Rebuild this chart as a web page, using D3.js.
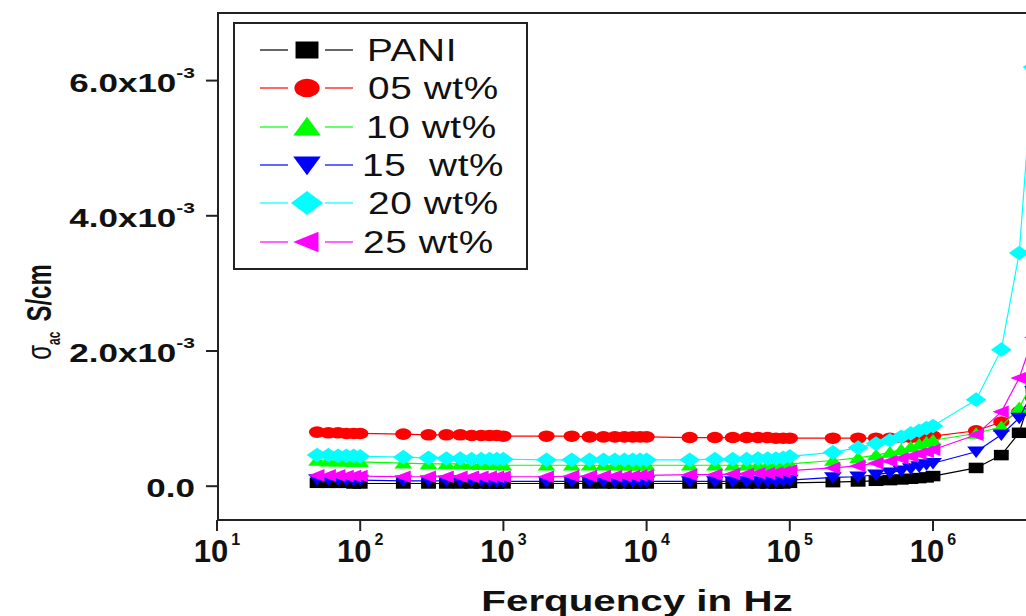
<!DOCTYPE html>
<html>
<head>
<meta charset="utf-8">
<script src="https://cdn.jsdelivr.net/npm/d3@7"></script>
<style>
    body { margin: 0; background: #fff; }
    svg { display: block; font-family: "Liberation Sans", Arial, sans-serif; }
</style>
</head>
<body>
<div id="chart"></div>
<script>
var width = 1026, height = 616;

// frequency in Hz
var freq = [50, 60, 70, 80, 90, 100,
    200, 300, 400, 500, 600, 700, 800, 900,
    1e3, 2e3, 3e3, 4e3, 5e3, 6e3, 7e3, 8e3, 9e3,
    1e4, 2e4, 3e4, 4e4, 5e4, 6e4, 7e4, 8e4, 9e4,
    1e5, 2e5, 3e5, 4e5, 5e5, 6e5, 7e5, 8e5, 9e5,
    1e6, 2e6, 3e6, 4e6, 5e6];

// sigma ac, in units of 1e-3 S/cm
var pani = [0.05, 0.05, 0.05, 0.05, 0.04, 0.04,
    0.04, 0.04, 0.04, 0.04, 0.04, 0.04, 0.04, 0.04,
    0.04, 0.04, 0.04, 0.04, 0.04, 0.04, 0.04, 0.04, 0.04,
    0.04, 0.04, 0.04, 0.04, 0.04, 0.04, 0.04, 0.04, 0.04,
    0.05, 0.06, 0.07, 0.08, 0.09, 0.10, 0.11, 0.12, 0.13,
    0.15, 0.27, 0.46, 0.79, 1.45];
var wt05 = [0.80, 0.79, 0.79, 0.78, 0.78, 0.78,
    0.77, 0.76, 0.76, 0.76, 0.75, 0.75, 0.75, 0.75,
    0.74, 0.74, 0.74, 0.73, 0.73, 0.73, 0.73, 0.73, 0.73,
    0.73, 0.72, 0.72, 0.72, 0.72, 0.72, 0.72, 0.71, 0.71,
    0.71, 0.71, 0.71, 0.71, 0.71, 0.72, 0.72, 0.72, 0.73,
    0.74, 0.82, 0.95, 1.10, 1.30];
var wt10 = [0.38, 0.37, 0.37, 0.37, 0.36, 0.36,
    0.34, 0.33, 0.33, 0.33, 0.32, 0.32, 0.32, 0.32,
    0.31, 0.31, 0.31, 0.31, 0.31, 0.31, 0.31, 0.31, 0.31,
    0.31, 0.31, 0.31, 0.31, 0.31, 0.31, 0.31, 0.31, 0.32,
    0.33, 0.38, 0.42, 0.46, 0.50, 0.54, 0.58, 0.62, 0.65,
    0.68, 0.78, 0.88, 1.16, 1.55];
var wt15 = [0.10, 0.10, 0.10, 0.09, 0.09, 0.09,
    0.08, 0.08, 0.08, 0.08, 0.08, 0.08, 0.07, 0.07,
    0.07, 0.07, 0.07, 0.07, 0.07, 0.07, 0.07, 0.07, 0.07,
    0.07, 0.07, 0.07, 0.07, 0.07, 0.07, 0.07, 0.07, 0.08,
    0.09, 0.13, 0.14, 0.17, 0.20, 0.23, 0.26, 0.29, 0.32,
    0.34, 0.51, 0.76, 1.01, 1.40];
var wt20 = [0.46, 0.46, 0.45, 0.45, 0.45, 0.44,
    0.43, 0.42, 0.41, 0.41, 0.40, 0.40, 0.40, 0.40,
    0.40, 0.39, 0.39, 0.39, 0.39, 0.39, 0.39, 0.39, 0.39,
    0.39, 0.39, 0.40, 0.40, 0.40, 0.41, 0.41, 0.41, 0.42,
    0.44, 0.50, 0.57, 0.63, 0.68, 0.73, 0.78, 0.82, 0.86,
    0.89, 1.28, 2.02, 3.45, 6.20];
var wt25 = [0.16, 0.16, 0.16, 0.15, 0.15, 0.15,
    0.14, 0.14, 0.14, 0.14, 0.14, 0.14, 0.14, 0.14,
    0.14, 0.14, 0.15, 0.15, 0.15, 0.15, 0.15, 0.15, 0.16,
    0.16, 0.17, 0.17, 0.18, 0.18, 0.19, 0.19, 0.20, 0.21,
    0.23, 0.27, 0.30, 0.34, 0.37, 0.41, 0.44, 0.48, 0.51,
    0.54, 0.76, 1.10, 1.60, 2.20];

var seriesNames = ["PANI", "05 wt%", "10 wt%", "15  wt%", "20 wt%", "25 wt%"];
var seriesValues = [pani, wt05, wt10, wt15, wt20, wt25];
var seriesColors = ["#000000", "#ff0000", "#00ff00", "#0000ff", "#00ffff", "#ff00ff"];
var seriesShapes = ["square", "circle", "triUp", "triDown", "diamond", "triLeft"];

var yTicks = [0, 2, 4, 6];
var xTicks = [1, 2, 3, 4, 5, 6]; // exponents

// the picture is stretched sideways
var stretch = 1.35;

var shapePaths = {
    square: "M-5,-5h10v10h-10Z",
    circle: "M-5.5,0A5.5,5.5 0 1,0 5.5,0A5.5,5.5 0 1,0 -5.5,0Z",
    triUp: "M0,-6L6,5L-6,5Z",
    triDown: "M0,6L6,-5L-6,-5Z",
    diamond: "M0,-7L7,0L0,7L-7,0Z",
    triLeft: "M-6,0L5,-6L5,6Z"
};

var svg = d3.select("#chart").append("svg")
    .attr("width", width)
    .attr("height", height);

var plotLeft = 217, plotTop = 13, plotBottom = 520;

var x = d3.scaleLog()
    .domain([10, 1e7])
    .range([plotLeft, plotLeft + 6 * 143.2]);

var y = d3.scaleLinear()
    .domain([-0.5, 7.0])
    .range([plotBottom, plotTop]);

// series lines and markers
var line = d3.line()
    .x(function(d) { return x(d[0]); })
    .y(function(d) { return y(d[1]); });

seriesValues.forEach(function(vals, i) {
    var pts = freq.map(function(f, j) { return [f, vals[j]]; });
    var g = svg.append("g").attr("class", "series");
    g.append("path")
        .attr("d", line(pts))
        .attr("fill", "none")
        .attr("stroke", seriesColors[i])
        .attr("stroke-width", 1.2);
    g.selectAll("path.mark")
        .data(pts)
        .enter().append("path")
        .attr("class", "mark")
        .attr("d", shapePaths[seriesShapes[i]])
        .attr("fill", seriesColors[i])
        .attr("transform", function(d) {
            return "translate(" + x(d[0]) + "," + y(d[1]) + ") scale(" + (1.1 * stretch) + ",1.05)";
        });
});

// frame
var frame = svg.append("g").attr("stroke", "#222").attr("stroke-width", 2).attr("fill", "none");
frame.append("path")
    .attr("d", "M" + width + "," + plotTop + "H" + (plotLeft + 1) + "V" + plotBottom + "H" + width);

// y ticks
yTicks.forEach(function(t) {
    var ty = y(t);
    frame.append("line")
        .attr("x1", plotLeft - 11).attr("x2", plotLeft)
        .attr("y1", ty).attr("y2", ty);
    var lab = svg.append("g")
        .attr("transform", "translate(195," + (ty + 11) + ") scale(1.4,1)")
        .append("text")
        .attr("text-anchor", "end")
        .attr("font-weight", "bold")
        .attr("font-size", 25)
        .attr("fill", "#111");
    if (t === 0) {
        lab.text("0.0");
    } else {
        lab.append("tspan").text(t.toFixed(1) + "x10");
        lab.append("tspan").attr("font-size", 15).attr("dy", -14).text("-3");
    }
});

// x ticks
xTicks.forEach(function(e) {
    var tx = x(Math.pow(10, e));
    frame.append("line")
        .attr("x1", tx).attr("x2", tx)
        .attr("y1", plotBottom).attr("y2", plotBottom + 11);
    var lab = svg.append("text")
        .attr("x", tx)
        .attr("y", 562)
        .attr("text-anchor", "middle")
        .attr("font-weight", "bold")
        .attr("font-size", 31)
        .attr("fill", "#111");
    lab.append("tspan").text("10");
    lab.append("tspan").attr("font-size", 16).attr("dy", -17).attr("dx", 3).text(e);
});

// axis titles
svg.append("g")
    .attr("transform", "translate(637,611) scale(1.39,1)")
    .append("text")
    .attr("text-anchor", "middle")
    .attr("font-weight", "bold")
    .attr("font-size", 29)
    .attr("fill", "#111")
    .text("Ferquency in Hz");

var ytitle = svg.append("g")
    .attr("transform", "translate(51,312) scale(1.5,1) rotate(-90)")
    .append("text")
    .attr("text-anchor", "middle")
    .attr("font-weight", "bold")
    .attr("font-size", 24)
    .attr("fill", "#111");
ytitle.append("tspan").attr("font-weight", "normal").text("σ");
ytitle.append("tspan").attr("font-size", 12).attr("dy", 6).text("ac");
ytitle.append("tspan").attr("dy", -6).attr("dx", 10).text("S/cm");

// legend
var legend = svg.append("g");
legend.append("rect")
    .attr("x", 234).attr("y", 23)
    .attr("width", 293).attr("height", 246)
    .attr("fill", "#fff")
    .attr("stroke", "#222")
    .attr("stroke-width", 2);

var legendRows = [50, 88, 127, 165, 203, 242];
var legendTextX = [367, 368, 366, 362, 368, 363];

seriesNames.forEach(function(name, i) {
    var ly = legendRows[i];
    var row = legend.append("g");
    row.append("line").attr("x1", 260).attr("x2", 288).attr("y1", ly).attr("y2", ly)
        .attr("stroke", seriesColors[i]).attr("stroke-width", 1.2);
    row.append("line").attr("x1", 325).attr("x2", 353).attr("y1", ly).attr("y2", ly)
        .attr("stroke", seriesColors[i]).attr("stroke-width", 1.2);
    row.append("path")
        .attr("d", shapePaths[seriesShapes[i]])
        .attr("fill", seriesColors[i])
        .attr("transform", "translate(307," + ly + ") scale(" + (1.7 * stretch) + ",1.7)");
    row.append("g")
        .attr("transform", "translate(" + legendTextX[i] + "," + (ly + 11) + ") scale(1.25,1)")
        .append("text")
        .attr("font-size", 31)
        .attr("letter-spacing", 0.5)
        .attr("fill", "#111")
        .style("white-space", "pre")
        .text(name);
});
</script>
</body>
</html>
